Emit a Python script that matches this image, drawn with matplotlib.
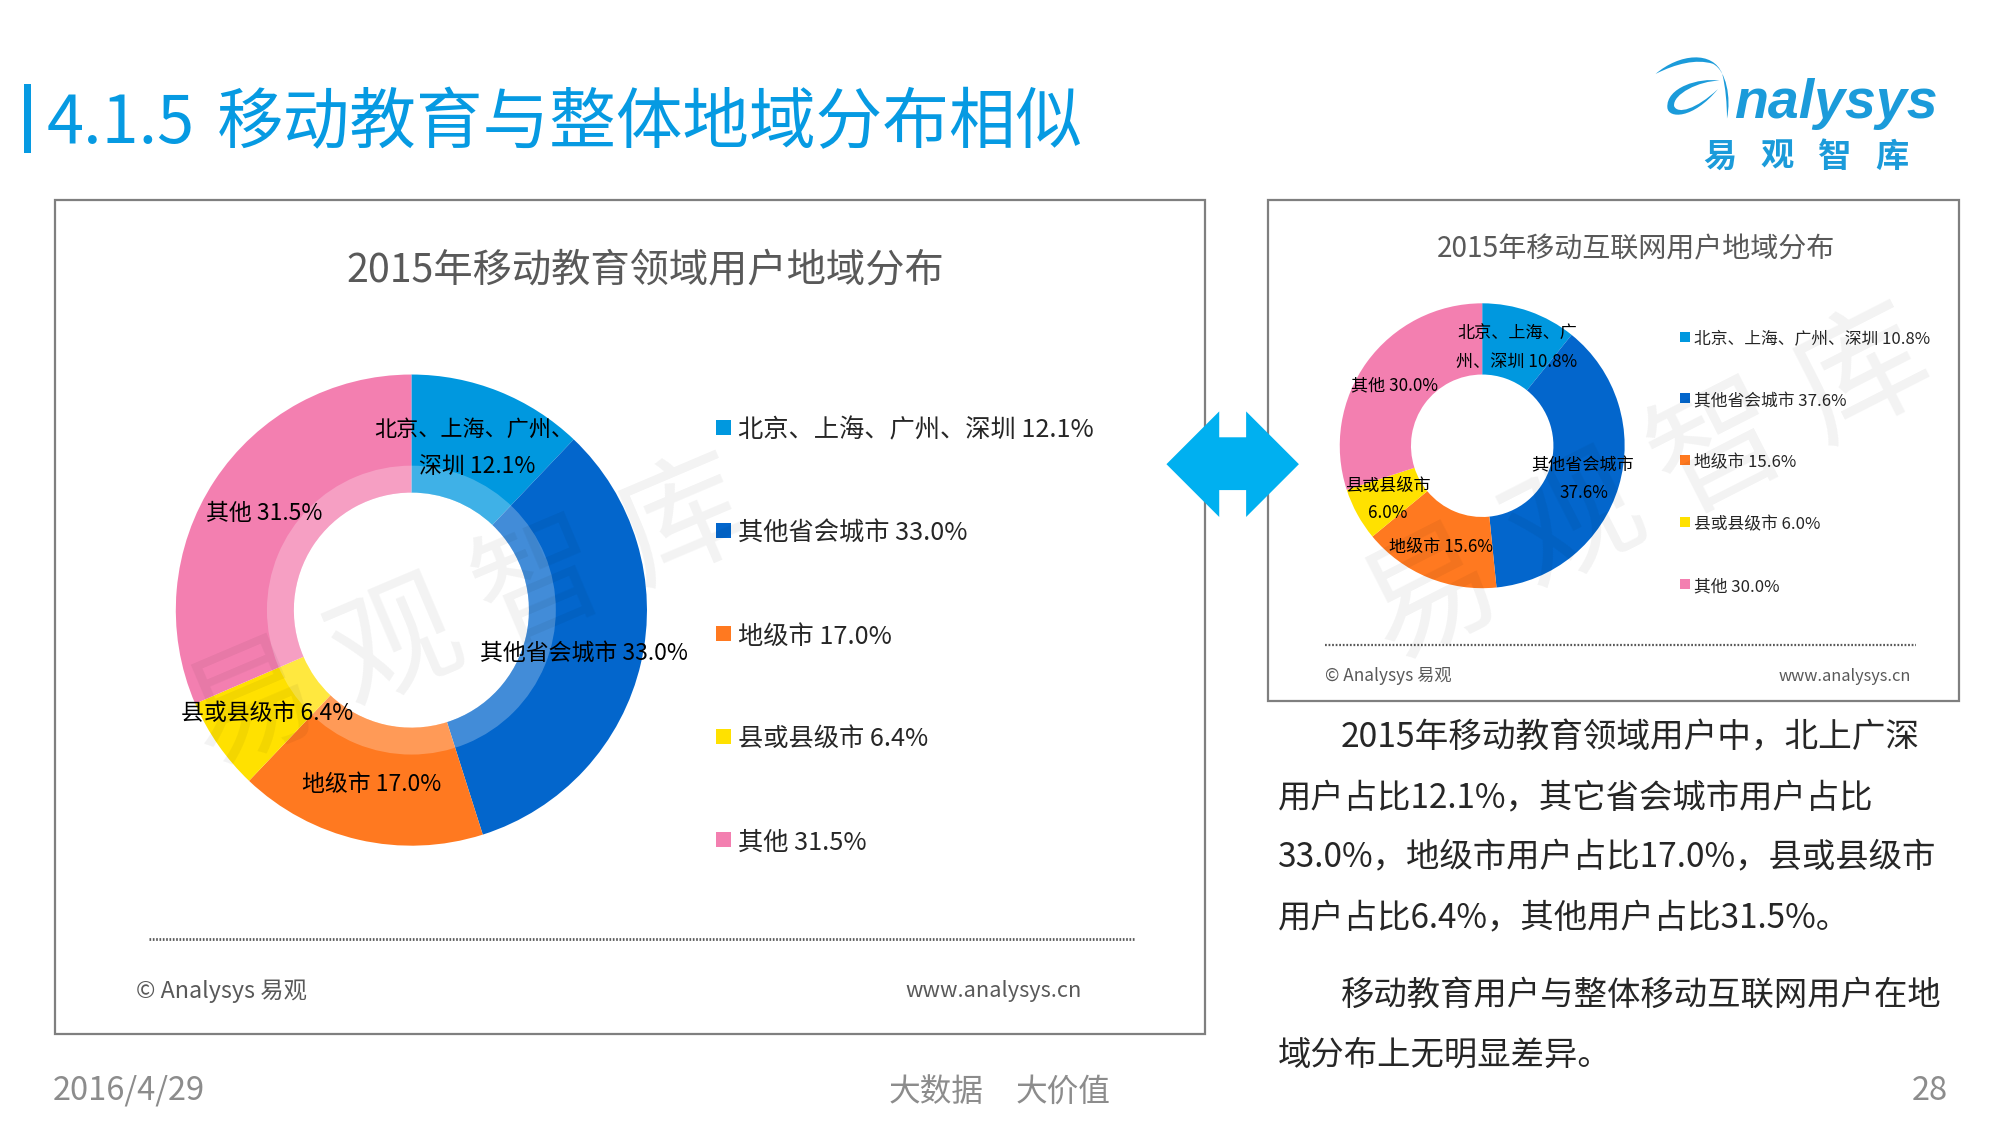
import matplotlib
matplotlib.use('Agg')
import matplotlib.pyplot as plt
from matplotlib.patches import Rectangle, Polygon, PathPatch
from matplotlib.path import Path
import numpy as np

plt.rcParams['font.family'] = ['Noto Sans CJK SC', 'DejaVu Sans']

W, H = 2000, 1125
K = 0.9961   # layout below was measured a little too wide
DY = 3       # glyphs sit a bit high with va=center

categories = ['北京、上海、广州、深圳', '其他省会城市', '地级市', '县或县级市', '其他']
education_share = [12.1, 33.0, 17.0, 6.4, 31.5]
internet_share = [10.8, 37.6, 15.6, 6.0, 30.0]
colors = ['#0098DF', '#0366CC', '#FF7920', '#FFE100', '#F37FB0']

section_no = '4.1.5'
page_title = '移动教育与整体地域分布相似'
left_title = '2015年移动教育领域用户地域分布'
right_title = '2015年移动互联网用户地域分布'
paragraph = ['2015年移动教育领域用户中，北上广深',
             '用户占比12.1%，其它省会城市用户占比',
             '33.0%，地级市用户占比17.0%，县或县级市',
             '用户占比6.4%，其他用户占比31.5%。',
             '移动教育用户与整体移动互联网用户在地',
             '域分布上无明显差异。']

BLUE = '#069AE2'
GREY = '#595959'
FOOT = '#8C8C8C'


def donut(fig, cx, cy, r, values, ring=None, hole=None):
    # axes sits exactly on the circle, positions are in page pixels
    cx, cy, r = cx * K, cy * K, r * K
    ax = fig.add_axes([(cx - r) / W, 1 - (cy + r) / H, 2 * r / W, 2 * r / H])
    hole, ring = hole * K, ring * K if ring else None
    ax.pie(values, colors=colors, startangle=90, counterclock=False, radius=1,
           wedgeprops={'width': 1 - hole / r, 'linewidth': 0})
    if ring:
        ax.pie([1], colors=['white'], radius=ring / r,
               wedgeprops={'width': (ring - hole) / r, 'linewidth': 0, 'alpha': 0.25})
    ax.set_xlim(-1, 1)
    ax.set_ylim(-1, 1)
    ax.set_aspect('equal')
    ax.axis('off')
    return ax


def label(x, y, s, size, color='black', ha='center', **kw):
    return ax.text(x, y + DY, s, fontsize=size, color=color, va='center', ha=ha, **kw)


def legend(x, ys, values, size, box, gap):
    for i, y in enumerate(ys):
        ax.add_patch(Rectangle((x, y - box / 2), box, box, color=colors[i], lw=0))
        label(x + box + gap, y, f'{categories[i]} {values[i]:.1f}%', size, color='#262626', ha='left')


def draw_logo():
    def px(u, v):
        return 1608 + u * 0.338, 30 + v * 0.34
    M, C, Z = Path.MOVETO, Path.CURVE4, Path.CLOSEPOLY
    arc = [(160, 130), (230, 70), (330, 60), (358, 130), (368, 170), (372, 220), (372, 262),
           (385, 200), (370, 120), (330, 100), (280, 85), (220, 100), (160, 130), (160, 130)]
    loop = [(350, 150), (290, 140), (190, 170), (195, 230), (198, 262), (270, 265), (345, 175),
            (280, 235), (225, 250), (215, 225), (210, 190), (290, 150), (350, 150), (350, 150)]
    for pts in (arc, loop):
        codes = [M] + [C] * 12 + [Z]
        ax.add_patch(PathPatch(Path([px(*p) for p in pts], codes), color='#1B9BDA', lw=0))
    ax.text(1741, 118, 'nalysys', fontsize=40, family='Liberation Sans', weight='bold',
            style='italic', color='#1B9BDA', va='baseline', ha='left')
    for ch, x in zip('易观智库', np.linspace(1727, 1899, 4)):
        label(x, 155, ch, 24, color='#1B9BDA', weight='bold')


fig = plt.figure(figsize=(20, 11.25), dpi=100, facecolor='white')

donut(fig, 413, 612.5, 236.5, education_share, ring=145, hole=118)
donut(fig, 1488, 447.5, 143, internet_share, hole=71.5)

ax = fig.add_axes([0, 0, 1, 1], zorder=5)
ax.patch.set_alpha(0)
ax.set_xlim(0, W / K)
ax.set_ylim(H / K, 0)
ax.axis('off')

# page title
ax.add_patch(Rectangle((24, 84), 7, 70, color=BLUE, lw=0))
label(47, 122, section_no, 48, color=BLUE, ha='left')
label(218, 122, page_title, 48, color=BLUE, ha='left')
draw_logo()

# panel frames
ax.add_patch(Rectangle((55, 201), 1154.5, 837, fill=False, ec='#7F7F7F', lw=1.6))
ax.add_patch(Rectangle((1273, 201), 694, 503, fill=False, ec='#7F7F7F', lw=1.6))

label(648, 269, left_title, 28.3, color=GREY)
label(1642, 247, right_title, 20.2, color=GREY)

# labels on the big donut
lab = 16.5
e = education_share
c = categories
label(476, 428, '北京、上海、广州、', 15.9)
label(479, 465, f'深圳 {e[0]}%', lab)
label(586, 653, f'{c[1]} {e[1]:.1f}%', lab)
label(373, 785, f'{c[2]} {e[2]:.1f}%', lab)
label(268, 713, f'{c[3]} {e[3]}%', lab)
label(265, 513, f'{c[4]} {e[4]}%', lab)

# labels on the small donut
lab = 12.3
s = internet_share
label(1523, 332, '北京、上海、广', lab)
label(1522, 360, f'州、深圳 {s[0]}%', lab)
label(1589, 464, c[1], lab)
label(1590, 492, f'{s[1]}%', lab)
label(1447, 546, f'{c[2]} {s[2]}%', lab)
label(1393, 485, c[3], lab)
label(1393, 512, f'{s[3]:.1f}%', lab)
label(1400, 384, f'{c[4]} {s[4]:.1f}%', lab)

legend(719, [429, 533, 636, 739, 843], education_share, 18.2, 15, 6.5)
legend(1687, [338, 400, 462, 524, 586], internet_share, 12.1, 10, 4)

# panel footers
ax.plot([150, 1138], [943, 943], color='#595959', lw=2, ls=(0, (0.6, 0.6)))
ax.plot([1330, 1923], [647.5, 647.5], color='#595959', lw=1.6, ls=(0, (0.8, 0.8)))
label(137, 992, '© Analysys 易观', 16.8, color=GREY, ha='left')
label(1086, 992, 'www.analysys.cn', 15.7, color=GREY, ha='right')
label(1330, 676, '© Analysys 易观', 12.4, color=GREY, ha='left')
label(1918, 676, 'www.analysys.cn', 11.8, color=GREY, ha='right')

# double arrow between panels
ax.add_patch(Polygon([(1171, 466), (1224, 413), (1224, 439), (1251, 439), (1251, 413), (1304, 466),
                      (1251, 519), (1251, 492), (1224, 492), (1224, 519)],
                     closed=True, color='#00B0F0', lw=0))

# right hand text
para_x = [1346, 1283, 1283, 1283, 1346, 1283]
para_y = [738, 798, 858, 918, 996, 1056]
para_size = [24.25, 24.0, 24.05, 24.0, 24.0, 24.0]
for line, x, y, size in zip(paragraph, para_x, para_y, para_size):
    label(x, y, line, size, color='#262626', ha='left')

# page footer
label(53, 1092, '2016/4/29', 23.5, color=FOOT, ha='left')
label(892, 1093, '大数据', 22.8, color=FOOT, ha='left')
label(1020, 1093, '大价值', 22.8, color=FOOT, ha='left')
label(1956, 1092, '28', 23.5, color=FOOT, ha='right')

# watermarks
for x, y, rot, size in [(471, 620, 23, 92), (1655, 490, 27, 95)]:
    ax.text(x, y, '易 观 智 库', fontsize=size, color='black', alpha=0.05, rotation=rot,
            rotation_mode='anchor', va='center', ha='center')

fig.savefig('out.png', dpi=100, facecolor='white')
